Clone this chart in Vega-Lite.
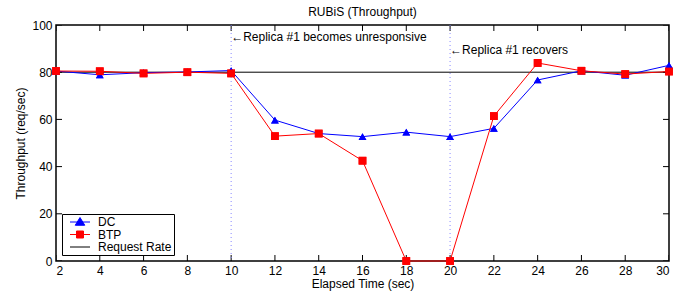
{
  "$schema": "https://vega.github.io/schema/vega-lite/v6.json",
  "width": 613,
  "height": 236,
  "autosize": "none",
  "padding": {"left": 56, "top": 25, "right": 14, "bottom": 31},
  "background": "white",
  "title": {"text": "RUBiS (Throughput)", "fontSize": 12, "fontWeight": "normal", "font": "Liberation Sans", "offset": 0, "color": "black"},
  "config": {
    "font": "Liberation Sans",
    "view": {"stroke": "black", "strokeWidth": 1.5},
    "axis": {"labelFont": "Liberation Sans", "labelFontSize": 12, "labelColor": "black", "titleFont": "Liberation Sans", "titleFontSize": 12, "titleFontWeight": "normal", "titleColor": "black", "domain": false, "ticks": false, "tickSize": 0, "grid": false}
  },
  "datasets": {
    "series": [
      {"t": 2, "series": "DC", "value": 80.5},
      {"t": 4, "series": "DC", "value": 78.9},
      {"t": 6, "series": "DC", "value": 79.8},
      {"t": 8, "series": "DC", "value": 80.1},
      {"t": 10, "series": "DC", "value": 80.7},
      {"t": 12, "series": "DC", "value": 59.7},
      {"t": 14, "series": "DC", "value": 54.0},
      {"t": 16, "series": "DC", "value": 52.7},
      {"t": 18, "series": "DC", "value": 54.6},
      {"t": 20, "series": "DC", "value": 52.7},
      {"t": 22, "series": "DC", "value": 56.2},
      {"t": 24, "series": "DC", "value": 76.7},
      {"t": 26, "series": "DC", "value": 80.6},
      {"t": 28, "series": "DC", "value": 78.7},
      {"t": 30, "series": "DC", "value": 82.9},
      {"t": 2, "series": "BTP", "value": 80.5},
      {"t": 4, "series": "BTP", "value": 80.4},
      {"t": 6, "series": "BTP", "value": 79.5},
      {"t": 8, "series": "BTP", "value": 80.0},
      {"t": 10, "series": "BTP", "value": 79.5},
      {"t": 12, "series": "BTP", "value": 52.9},
      {"t": 14, "series": "BTP", "value": 54.0},
      {"t": 16, "series": "BTP", "value": 42.5},
      {"t": 18, "series": "BTP", "value": 0},
      {"t": 20, "series": "BTP", "value": 0},
      {"t": 22, "series": "BTP", "value": 61.4},
      {"t": 24, "series": "BTP", "value": 83.9},
      {"t": 26, "series": "BTP", "value": 80.6},
      {"t": 28, "series": "BTP", "value": 79.2},
      {"t": 30, "series": "BTP", "value": 80.3}
    ],
    "rate": [
      {"t": 2, "series": "Request Rate", "value": 80},
      {"t": 30, "series": "Request Rate", "value": 80}
    ],
    "events": [
      {"t": 10, "label": "←Replica #1 becomes unresponsive", "y": 95},
      {"t": 20, "label": "←Replica #1 recovers", "y": 89.5}
    ],
    "xticks": [{"t": 2}, {"t": 4}, {"t": 6}, {"t": 8}, {"t": 10}, {"t": 12}, {"t": 14}, {"t": 16}, {"t": 18}, {"t": 20}, {"t": 22}, {"t": 24}, {"t": 26}, {"t": 28}, {"t": 30}],
    "yticks": [{"v": 0}, {"v": 20}, {"v": 40}, {"v": 60}, {"v": 80}, {"v": 100}]
  },
  "layer": [
    {
      "data": {"name": "series"},
      "mark": {"type": "point", "filled": true, "opacity": 1, "size": 60},
      "encoding": {
        "x": {
          "field": "t", "type": "quantitative",
          "scale": {"domain": [2, 30], "nice": false},
          "axis": {"values": [2,4,6,8,10,12,14,16,18,20,22,24,26,28,30], "title": "Elapsed Time (sec)", "labelPadding": 4, "titlePadding": 2}
        },
        "y": {
          "field": "value", "type": "quantitative",
          "scale": {"domain": [0, 100], "nice": false},
          "axis": {"values": [0,20,40,60,80,100], "title": "Throughput (req/sec)", "labelPadding": 4, "titlePadding": 4}
        },
        "color": {
          "field": "series", "type": "nominal",
          "scale": {"domain": ["DC", "BTP", "Request Rate"], "range": ["#0000ff", "#ff0000", "#000000"]},
          "legend": {
            "title": null,
            "orient": "bottom-left",
            "offset": 6,
            "fillColor": "white",
            "strokeColor": "black",
            "padding": 2,
            "rowPadding": 0.5,
            "labelFontSize": 12,
            "labelFont": "Liberation Sans",
            "labelColor": "black",
            "symbolSize": 100,
            "symbolOffset": 10,
            "labelOffset": 12,
            "symbolStrokeWidth": 1,
            "encoding": {
              "symbols": {
                "shape": {"condition": [{"test": "datum.value === 'DC'", "value": "M-2,0H2M0,-0.9L0.95,0.65H-0.95Z"}, {"test": "datum.value === 'BTP'", "value": "M-2,0H2M-0.7,-0.7H0.7V0.7H-0.7Z"}], "value": "M-2,0H2"},
                "stroke": {"condition": [{"test": "datum.value === 'DC'", "value": "#0000ff"}, {"test": "datum.value === 'BTP'", "value": "#ff0000"}], "value": "#000000"},
                "strokeWidth": {"value": 1},
                "opacity": {"value": 1}
              }
            }
          }
        },
        "shape": {
          "field": "series", "type": "nominal",
          "scale": {"domain": ["DC", "BTP"], "range": ["triangle-up", "square"]},
          "legend": null
        }
      }
    },
    {
      "data": {"name": "xticks"},
      "mark": {"type": "tick", "orient": "vertical", "size": 12, "thickness": 1, "color": "black", "opacity": 1, "clip": true},
      "encoding": {
        "x": {"field": "t", "type": "quantitative"},
        "y": {"datum": 0, "type": "quantitative"}
      }
    },
    {
      "data": {"name": "xticks"},
      "mark": {"type": "tick", "orient": "vertical", "size": 12, "thickness": 1, "color": "black", "opacity": 1, "clip": true},
      "encoding": {
        "x": {"field": "t", "type": "quantitative"},
        "y": {"datum": 100, "type": "quantitative"}
      }
    },
    {
      "data": {"name": "yticks"},
      "mark": {"type": "tick", "orient": "horizontal", "size": 12, "thickness": 1, "color": "black", "opacity": 1, "clip": true},
      "encoding": {
        "y": {"field": "v", "type": "quantitative"},
        "x": {"datum": 2, "type": "quantitative"}
      }
    },
    {
      "data": {"name": "yticks"},
      "mark": {"type": "tick", "orient": "horizontal", "size": 12, "thickness": 1, "color": "black", "opacity": 1, "clip": true},
      "encoding": {
        "y": {"field": "v", "type": "quantitative"},
        "x": {"datum": 30, "type": "quantitative"}
      }
    },
    {
      "data": {"name": "events"},
      "mark": {"type": "rule", "color": "#8888ff", "strokeDash": [1, 3], "strokeWidth": 1},
      "encoding": {
        "x": {"field": "t", "type": "quantitative"}
      }
    },
    {
      "data": {"name": "events"},
      "mark": {"type": "text", "align": "left", "baseline": "middle", "fontSize": 12, "font": "Liberation Sans", "color": "black", "dx": 0},
      "encoding": {
        "x": {"field": "t", "type": "quantitative"},
        "y": {"field": "y", "type": "quantitative"},
        "text": {"field": "label"}
      }
    },
    {
      "data": {"name": "rate"},
      "mark": {"type": "line", "strokeWidth": 1},
      "encoding": {
        "x": {"field": "t", "type": "quantitative"},
        "y": {"field": "value", "type": "quantitative"},
        "color": {"field": "series", "type": "nominal"}
      }
    },
    {
      "data": {"name": "series"},
      "mark": {"type": "line", "strokeWidth": 1},
      "encoding": {
        "x": {"field": "t", "type": "quantitative"},
        "y": {"field": "value", "type": "quantitative"},
        "color": {"field": "series", "type": "nominal"}
      }
    },
    {
      "data": {"name": "series"},
      "mark": {"type": "point", "filled": true, "opacity": 1, "size": 60},
      "encoding": {
        "x": {"field": "t", "type": "quantitative"},
        "y": {"field": "value", "type": "quantitative"},
        "color": {"field": "series", "type": "nominal"},
        "shape": {"field": "series", "type": "nominal"}
      }
    }
  ]
}
